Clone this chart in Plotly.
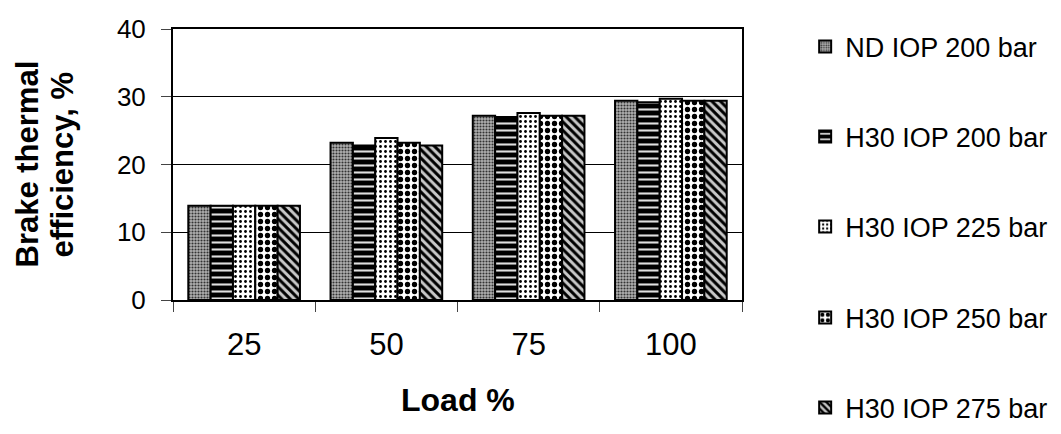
import plotly.graph_objects as go

loads = ["25", "50", "75", "100"]
series_names = ["ND IOP 200 bar", "H30 IOP 200 bar", "H30 IOP 225 bar", "H30 IOP 250 bar", "H30 IOP 275 bar"]
nd_200 = [13.9, 23.2, 27.2, 29.4]
h30_200 = [13.9, 22.8, 27.0, 29.2]
h30_225 = [13.9, 23.9, 27.6, 29.7]
h30_250 = [13.9, 23.2, 27.2, 29.4]
h30_275 = [13.9, 22.8, 27.2, 29.4]
y_ticks = [0, 10, 20, 30, 40]

values = [nd_200, h30_200, h30_225, h30_250, h30_275]
patterns = [
    dict(shape=".", fgcolor="#333333", bgcolor="#b0b0b0", size=3, solidity=0.4, fillmode="replace"),
    dict(shape="-", fgcolor="#e0e0e0", bgcolor="#000000", size=7, solidity=0.3, fillmode="replace"),
    dict(shape=".", fgcolor="#000000", bgcolor="#ffffff", size=5, solidity=0.25, fillmode="replace"),
    dict(shape=".", fgcolor="#000000", bgcolor="#ffffff", size=7, solidity=0.45, fillmode="replace"),
    dict(shape="\\", fgcolor="#000000", bgcolor="#c8c8c8", size=6, solidity=0.5, fillmode="replace"),
]

FONT = "Arial, Liberation Sans, sans-serif"
H = 434
legend_centers_px = [47, 137, 227, 318, 408]

fig = go.Figure()
legend_layouts = {}
for i, (name, vals) in enumerate(zip(series_names, values)):
    lname = "legend" if i == 0 else f"legend{i + 1}"
    fig.add_trace(go.Bar(
        x=loads, y=vals, name=name, legend=lname,
        marker=dict(color="#ffffff", pattern=patterns[i], line=dict(color="#000000", width=2)),
    ))
    legend_layouts[lname] = dict(
        x=1.111, xanchor="left", xref="paper",
        y=1 - legend_centers_px[i] / H, yanchor="middle", yref="container",
        font=dict(family=FONT, size=27, color="#000000"),
        bgcolor="rgba(0,0,0,0)", itemwidth=30,
    )

fig.update_layout(
    width=1061, height=434,
    margin=dict(l=173, r=319, t=29, b=134, autoexpand=False),
    paper_bgcolor="#ffffff", plot_bgcolor="#ffffff",
    barmode="group", bargap=0.215, bargroupgap=0,
    font=dict(family=FONT, color="#000000"),
    showlegend=True,
    xaxis=dict(
        type="category", showgrid=False, showline=True, linecolor="#000000", linewidth=2,
        mirror=True, ticks="outside", tickson="boundaries", ticklen=10, tickcolor="#444444",
        tickfont=dict(family=FONT, size=31, color="#000000"), ticklabelstandoff=16,
    ),
    yaxis=dict(
        range=[0, 40], tickvals=y_ticks, showgrid=True, gridcolor="#000000", gridwidth=1,
        showline=True, linecolor="#000000", linewidth=2, mirror=True, zeroline=False,
        ticks="outside", ticklen=10, tickcolor="#444444",
        tickfont=dict(family=FONT, size=26, color="#000000"), ticklabelstandoff=10,
    ),
    annotations=[
        dict(text="<b>Load %</b>", xref="paper", yref="paper", x=0.5, y=0, yshift=-100,
             xanchor="center", yanchor="middle", showarrow=False,
             font=dict(family=FONT, size=32, color="#000000")),
        dict(text="<b>Brake thermal</b>", xref="paper", yref="paper",
             x=0, xshift=-146, y=0.5, xanchor="center", yanchor="middle", textangle=-90,
             showarrow=False, font=dict(family=FONT, size=31, color="#000000")),
        dict(text="<b>efficiency, %</b>", xref="paper", yref="paper",
             x=0, xshift=-111, y=0.5, xanchor="center", yanchor="middle", textangle=-90,
             showarrow=False, font=dict(family=FONT, size=31, color="#000000")),
    ],
    **legend_layouts,
)

fig.write_html("out.html", config={"displayModeBar": False},
               post_script="document.body.style.margin='0';document.body.style.padding='0';")
